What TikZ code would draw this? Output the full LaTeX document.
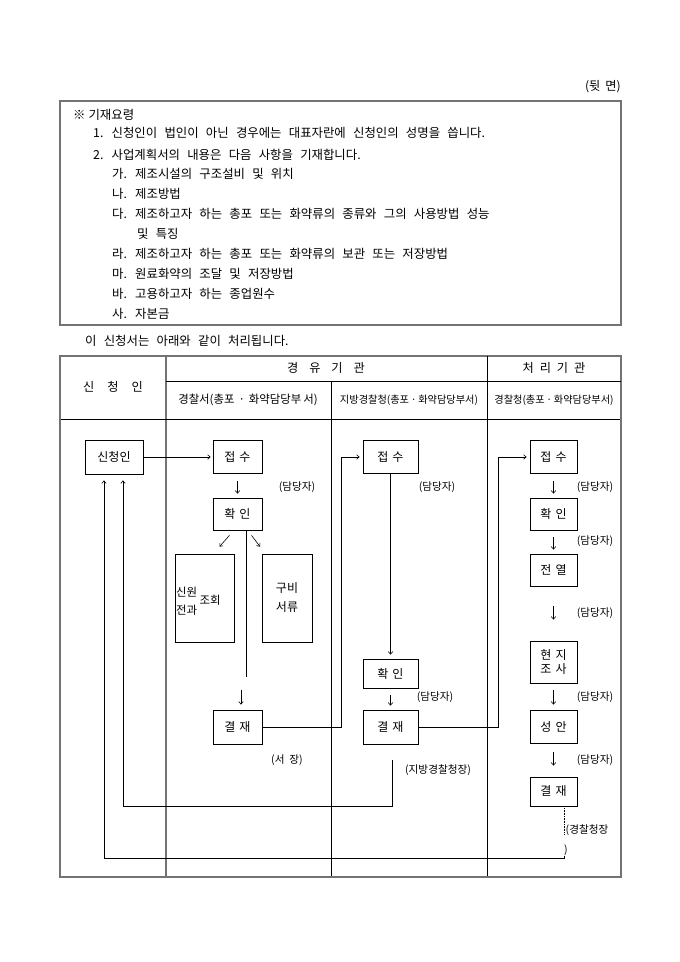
\documentclass[tikz,border=0pt]{standalone}
\usepackage{fontspec}
\setmainfont{Noto Sans CJK KR}[WordSpace=2.6]
\usetikzlibrary{arrows.meta}
\begin{document}
\begin{tikzpicture}[x=1pt,y=1pt,
  frame/.style={draw=black!55, line width=1.3pt},
  rule/.style={draw=black, line width=0.7pt},
  txt/.style={inner sep=0pt, anchor=west, font=\fontsize{12.4}{14}\selectfont},
  hd/.style={inner sep=0pt, font=\fontsize{12.2}{14}\selectfont},
  sub/.style={inner sep=0pt, font=\fontsize{10.2}{12}\selectfont},
  note/.style={inner sep=0pt, font=\fontsize{10.6}{12}\selectfont},
  box/.style={draw, line width=0.7pt, inner sep=0pt, align=center, font=\fontsize{12}{14}\selectfont},
  arr/.style={draw, line width=0.6pt, -{Straight Barb[length=2.6pt,width=4.5pt]}},
  ln/.style={draw, line width=0.6pt}]
\useasboundingbox (0,0) rectangle (680,962);
\fill[white] (0,0) rectangle (680,962);

% header mark
\node[hd, anchor=east] (back) at (621,875) {(뒷\hspace{5pt}면)};

% top box
\draw[frame] (60,861) rectangle (621,637);
\node[txt] (t0) at (73,847) {※\hspace{3pt}기재요령};
\node[txt] (t1) at (93,829) {1. 신청인이 법인이 아닌 경우에는 대표자란에 신청인의 성명을 씁니다.};
\node[txt] (t2) at (93,807) {2. 사업계획서의 내용은 다음 사항을 기재합니다.};
\node[txt] (t3) at (112,788) {가. 제조시설의 구조설비 및 위치};
\node[txt] (t4) at (112,768) {나. 제조방법};
\node[txt] (t5) at (112,748) {다. 제조하고자 하는 총포 또는 화약류의 종류와 그의 사용방법 성능};
\node[txt] (t6) at (137,728) {및 특징};
\node[txt] (t7) at (112,708) {라. 제조하고자 하는 총포 또는 화약류의 보관 또는 저장방법};
\node[txt] (t8) at (112,688) {마. 원료화약의 조달 및 저장방법};
\node[txt] (t9) at (112,668) {바. 고용하고자 하는 종업원수};
\node[txt] (t10) at (112,648) {사. 자본금};
\node[txt] (t11) at (85,621) {이 신청서는 아래와 같이 처리됩니다.};

% table
\draw[frame] (60,606) rectangle (621,85);
\draw[frame] (166,606) -- (166,85);
\draw[rule] (166,581) -- (621,581);
\draw[rule] (61,543) -- (620,543);
\draw[rule] (331,581) -- (331,86);
\draw[rule] (487,606) -- (487,86);

\node[hd] (hA) at (113,575) {신\hspace{13pt}청\hspace{13pt}인};
\node[hd] (hB) at (326,594) {경\hspace{11pt}유\hspace{11pt}기\hspace{11pt}관};
\node[hd] (hC) at (554,594) {처\hspace{6pt}리\hspace{6pt}기\hspace{6pt}관};
\node[sub, font=\fontsize{11.4}{13}\selectfont] (sA) at (248,562) {경찰서(총포\hspace{4pt}·\hspace{4pt}화약담당부\hspace{2pt}서)};
\node[sub] (sB) at (409,562) {지방경찰청(총포\,·\,화약담당부서)};
\node[sub] (sC) at (554,562) {경찰청(총포\,·\,화약담당부서)};

% boxes
\node[box, minimum width=58pt, minimum height=34pt] (app) at (114,505) {신청인};
\node[box, minimum width=49pt, minimum height=33pt] (r1) at (237.5,505) {접\hspace{4pt}수};
\node[box, minimum width=49pt, minimum height=32pt] (c1) at (237.5,448) {확\hspace{4pt}인};
\node[box, minimum width=59pt, minimum height=88pt] (sw) at (204.5,364) {};
\node[box, minimum width=50pt, minimum height=88pt] (gb) at (287,364) {구비\\[5pt]서류};
\node[box, minimum width=49pt, minimum height=34pt] (g1) at (237.5,235) {결\hspace{4pt}재};
\node[box, minimum width=55pt, minimum height=33pt] (r2) at (390.5,505) {접\hspace{4pt}수};
\node[box, minimum width=55pt, minimum height=29pt] (c2) at (390.5,288.5) {확\hspace{4pt}인};
\node[box, minimum width=55pt, minimum height=34pt] (g2) at (390.5,235) {결\hspace{4pt}재};
\node[box, minimum width=47pt, minimum height=33pt] (r3) at (553.5,505) {접\hspace{4pt}수};
\node[box, minimum width=47pt, minimum height=32pt] (c3) at (553.5,448) {확\hspace{4pt}인};
\node[box, minimum width=47pt, minimum height=32pt] (e3) at (553.5,392) {전\hspace{4pt}열};
\node[box, minimum width=47pt, minimum height=42pt] (s3) at (553.5,300) {현\hspace{4pt}지\\조\hspace{4pt}사};
\node[box, minimum width=47pt, minimum height=33pt] (sa) at (553.5,235.5) {성\hspace{4pt}안};
\node[box, minimum width=47pt, minimum height=29pt] (g3) at (553.5,170.5) {결\hspace{4pt}재};

% text inside 신원/전과/조회 box
\node[note, font=\fontsize{11.4}{13}\selectfont] (sw1) at (186.5,370) {신원};
\node[note, font=\fontsize{11.4}{13}\selectfont] (sw2) at (186.5,352) {전과};
\node[note, font=\fontsize{11.4}{13}\selectfont] (sw3) at (210,362) {조회};

% notes
\node[note] (n1) at (297,475) {(담당자)};
\node[note] (n2) at (287,202) {(서\hspace{5pt}장)};
\node[note] (n3) at (437,475) {(담당자)};
\node[note] (n4) at (435,265) {(담당자)};
\node[note] (n5) at (438,192) {(지방경찰청장)};
\node[note] (n6) at (595,475) {(담당자)};
\node[note] (n7) at (595,421) {(담당자)};
\node[note] (n8) at (595,349) {(담당자)};
\node[note] (n9) at (595,265) {(담당자)};
\node[note] (n10) at (595,202) {(담당자)};
\node[note, anchor=west] (n11) at (565.5,132) {(경찰청장};
\node[note, anchor=west] (n12) at (564,112) {)};

% connectors
\draw[arr, shorten >=2pt] (app.east) -- (r1.west);
\draw[arr, shorten <=7pt, shorten >=4pt] (r1) -- (c1);
\draw[arr] ([xshift=-8pt,yshift=-5pt]c1.south) -- ([xshift=15pt,yshift=7pt]sw.north);
\draw[arr] ([xshift=14pt,yshift=-5pt]c1.south) -- ([xshift=-27pt,yshift=7pt]gb.north);
\draw[ln] ([xshift=8.5pt]c1.south) -- ([xshift=8.5pt,yshift=33pt]g1.north);
\draw[arr] ([xshift=3.5pt,yshift=20pt]g1.north) -- ([xshift=3.5pt,yshift=5pt]g1.north);

\coordinate (j1) at (341,235);
\draw[arr, shorten >=3pt] (g1.east) -- (j1) |- (r2.west);
\draw[arr, shorten >=4pt] (r2) -- (c2);
\draw[arr, shorten <=7pt, shorten >=4pt] (c2) -- (g2);
\coordinate (j2) at (498,235);
\draw[arr, shorten >=3pt] (g2.east) -- (j2) |- (r3.west);

\draw[arr, shorten <=7pt, shorten >=4pt] (r3) -- (c3);
\draw[arr, shorten <=7pt, shorten >=4pt] (c3) -- (e3);
\draw[arr, shorten <=20pt, shorten >=21pt] (e3) -- (s3);
\draw[arr, shorten <=7pt, shorten >=5pt] (s3) -- (sa);
\draw[arr, shorten <=9pt, shorten >=11pt] (sa) -- (g3);

% return lines
\coordinate (k1) at (392,156);
\draw[arr, shorten >=6pt] ([xshift=1.5pt,yshift=-16pt]g2.south) -- (k1) -| ([xshift=9pt]app.south);
\coordinate (k2) at (564,104);
\draw[ln, densely dotted, line width=0.5pt] ([xshift=10.5pt]g3.south) -- ([xshift=10.5pt,yshift=-28pt]g3.south);
\draw[arr, shorten >=6pt] ([xshift=10.5pt,yshift=-50pt]g3.south) -- (k2) -| ([xshift=-10pt]app.south);
\end{tikzpicture}
\end{document}
